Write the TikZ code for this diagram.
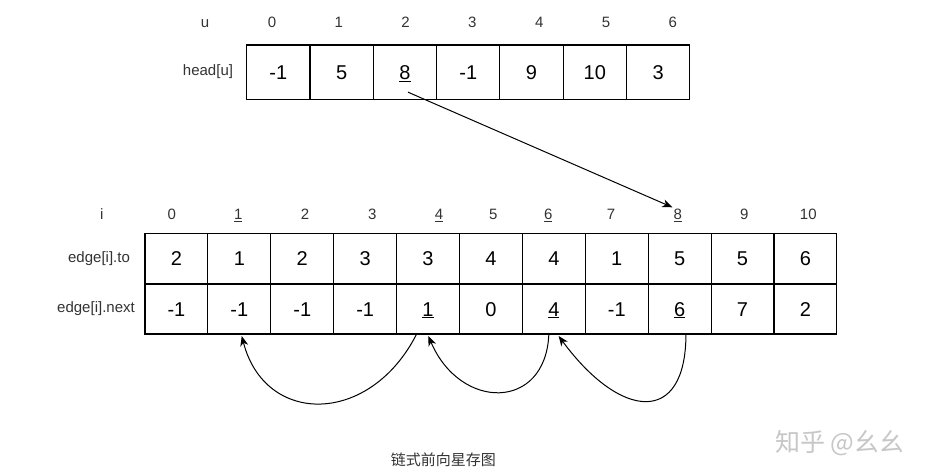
\documentclass[tikz,border=0pt]{standalone}
\usepackage{fontspec}
\setmainfont{Liberation Sans}
\newfontfamily\cjk{Noto Sans CJK SC}
\usetikzlibrary{arrows.meta}

\begin{document}
\begin{tikzpicture}[x=1pt,y=-1pt,
  cellbox/.style={draw, line width=1.1pt, inner sep=0pt, outer sep=0pt,
    font=\fontsize{20}{24}\selectfont, text height=14pt, text depth=0pt},
  idxlabel/.style={inner sep=1pt, font=\fontsize{15}{18}\selectfont,
    text height=11pt, text depth=0pt, text=black!80},
  rowlabel/.style={inner sep=0pt, font=\fontsize{15}{18}\selectfont, text=black!80},
  link/.style={-{Stealth[length=10pt,width=8pt,inset=3pt]}, line width=1pt}]
  % Page with its margins
  \fill[white] (0,0) rectangle (938,476);
  \useasboundingbox (0,0) rectangle (938,476);

  % head[u] array
  \node[idxlabel] (u) at (205,22) {u};
  \foreach \k in {0,...,6}
    \node[idxlabel] (u\k) at (272+66.8*\k,22) {\k};
  \node[rowlabel] (headlbl) at (208,71.7) {head[u]};
  \foreach \v [count=\k from 0] in {-1,5,\underline{8},-1,9,10,3}
    \node[cellbox, minimum width=63.3pt, minimum height=54.3pt] (h\k) at (278.35+63.3*\k,72.15) {\v};

  % edge array
  \node[idxlabel] (i) at (101.7,214) {i};
  \foreach \x/\t [count=\k from 0] in {171.7/0,238.3/\underline{1},305/2,372.3/3,439/\underline{4},
      493.3/5,548.3/\underline{6},611/7,677.7/\underline{8},744.3/9,808.3/10}
    \node[idxlabel] (i\k) at (\x,214) {\t};
  \node[rowlabel] (tolbl) at (99,258.3) {edge[i].to};
  \node[rowlabel] (nextlbl) at (96,308.3) {edge[i].next};
  \foreach \v [count=\k from 0] in {2,1,2,3,3,4,4,1,5,5,6}
    \node[cellbox, minimum width=62.9pt, minimum height=50.7pt] (to\k) at (176.45+62.9*\k,258.65) {\v};
  \foreach \v [count=\k from 0] in {-1,-1,-1,-1,\underline{1},0,\underline{4},-1,\underline{6},7,2}
    \node[cellbox, minimum width=62.9pt, minimum height=50pt] (nx\k) at (176.45+62.9*\k,309) {\v};

  % head points to edge 8
  \draw[link] ([shift={(3,20)}]h2.center) -- (i8.north west);

  % next chain 8 -> 6 -> 4 -> 1
  \draw[link] ([xshift=6.3pt]nx8.south) .. controls +(0,92) and +(62,84) .. ([shift={(4.8,2)}]nx6.south);
  \draw[link] ([xshift=-5pt]nx6.south) .. controls +(-3,77) and +(32,75) .. ([shift={(0.3,2)}]nx4.south);
  \draw[link] ([xshift=-11.4pt]nx4.south) .. controls +(-46.7,92) and +(23.3,90) .. ([shift={(2.4,2)}]nx1.south);

  % caption and mark
  \node[font=\cjk\fontsize{15}{18}\selectfont, text=black!80] (cap) at (443.3,460) {链式前向星存图};
  \node[font=\cjk\fontsize{25}{30}\selectfont, text=black!22] (mark) at (840,443) {知乎 @幺幺};
\end{tikzpicture}
\end{document}
